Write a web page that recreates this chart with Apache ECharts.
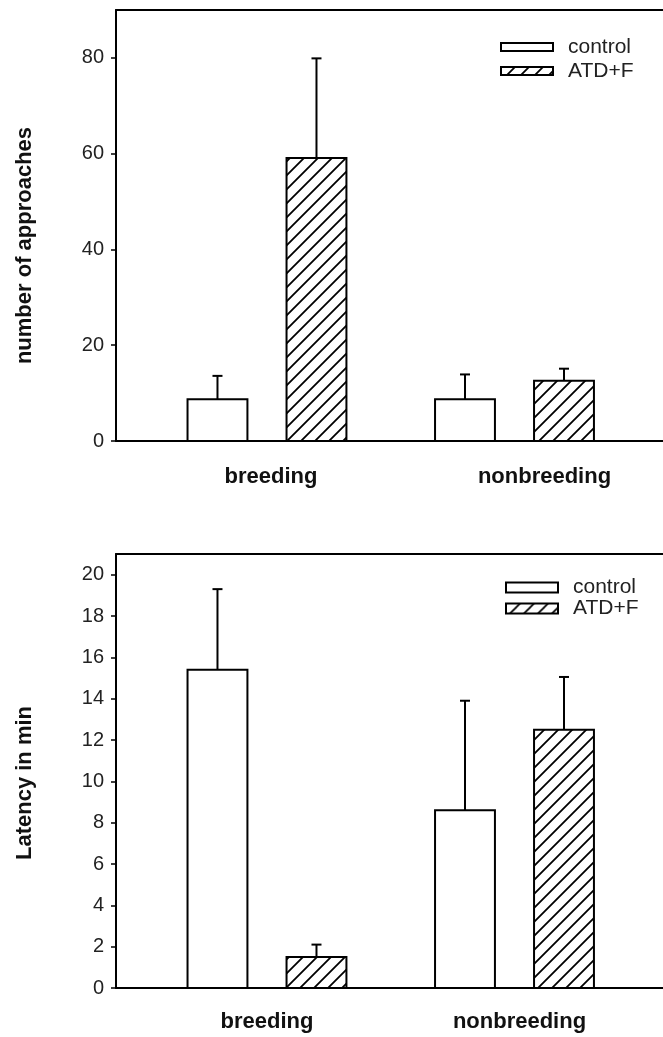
<!DOCTYPE html>
<html>
<head>
<meta charset="utf-8">
<script src="https://cdn.jsdelivr.net/npm/echarts@6/dist/echarts.min.js"></script>
<style>
html,body{margin:0;padding:0;background:#fff;}
#chart{width:663px;height:1037px;}
</style>
</head>
<body>
<div id="chart"></div>
<script>
// ---- data ----
const categories = ['breeding', 'nonbreeding'];
const seriesNames = ['control', 'ATD+F'];
const approachesControl = [8.7, 8.7];
const approachesControlErrTop = [13.6, 13.9];
const approachesATD = [59.1, 12.6];
const approachesATDErrTop = [79.9, 15.1];
const latencyControl = [15.4, 8.6];
const latencyControlErrTop = [19.3, 13.9];
const latencyATD = [1.5, 12.5];
const latencyATDErrTop = [2.1, 15.05];
const approachTicks = [0, 20, 40, 60, 80];
const latencyTicks = [0, 2, 4, 6, 8, 10, 12, 14, 16, 18, 20];

// ---- hatch pattern ----
function makeHatch() {
  const s = 14;
  const c = document.createElement('canvas');
  c.width = s; c.height = s;
  const ctx = c.getContext('2d');
  ctx.fillStyle = '#fff';
  ctx.fillRect(0, 0, s, s);
  ctx.strokeStyle = '#000';
  ctx.lineWidth = 1.8;
  ctx.beginPath();
  ctx.moveTo(-2, s + 2); ctx.lineTo(s + 2, -2);
  ctx.moveTo(-2, 2); ctx.lineTo(2, -2);
  ctx.moveTo(s - 2, s + 2); ctx.lineTo(s + 2, s - 2);
  ctx.stroke();
  return c;
}
const hatch = { image: makeHatch(), repeat: 'repeat' };

const FONT = '"Liberation Sans", Arial, sans-serif';
const OFFSET = 0.2;   // bar centre offset from category centre (axis units)
const HALF = 0.121;   // half bar width (axis units)

function buildData(values, errTops) {
  return values.map((v, i) => [i + 1, v, errTops[i]]);
}

function makeSeries(name, values, errTops, gridIdx, side, fill) {
  return {
    type: 'custom',
    name: name,
    xAxisIndex: gridIdx * 2,
    yAxisIndex: gridIdx,
    data: buildData(values, errTops),
    encode: { x: 0, y: 1 },
    itemStyle: { color: fill, borderColor: '#000', borderWidth: 2 },
    renderItem: function (params, api) {
      const x = api.value(0) + side * OFFSET;
      const v = api.value(1);
      const e = api.value(2);
      const p0 = api.coord([x - HALF, 0]);
      const p1 = api.coord([x + HALF, v]);
      const pc = api.coord([x, v]);
      const pe = api.coord([x, e]);
      const cap = 5;
      return {
        type: 'group',
        children: [
          {
            type: 'line',
            shape: { x1: pc[0], y1: pc[1], x2: pe[0], y2: pe[1] },
            style: { stroke: '#000', lineWidth: 2 }
          },
          {
            type: 'line',
            shape: { x1: pe[0] - cap, y1: pe[1], x2: pe[0] + cap, y2: pe[1] },
            style: { stroke: '#000', lineWidth: 2 }
          },
          {
            type: 'rect',
            shape: { x: p0[0], y: p1[1], width: p1[0] - p0[0], height: p0[1] - p1[1] },
            style: { fill: fill, stroke: '#000', lineWidth: 2 }
          }
        ]
      };
    }
  };
}

function xAxes(gridIdx, shiftNb, margin) {
  return [
    {
      gridIndex: gridIdx, type: 'value', position: 'bottom',
      min: 0.39, max: 2.6,
      axisLine: { show: true, onZero: false, lineStyle: { color: '#000', width: 2 } },
      axisTick: { show: false },
      splitLine: { show: false },
      axisLabel: {
        customValues: [1, 2],
        margin: margin,
        formatter: function (val) {
          const name = categories[Math.round(val) - 1];
          return '{' + (Math.round(val) === 2 ? 'nb' : 'b') + '|' + name + '}';
        },
        rich: {
          b: { fontFamily: FONT, fontWeight: 'bold', fontSize: 22, color: '#111', padding: [0, 0, 0, shiftNb[0]] },
          nb: { fontFamily: FONT, fontWeight: 'bold', fontSize: 22, color: '#111', padding: [0, 0, 0, shiftNb[1]] }
        }
      }
    },
    {
      gridIndex: gridIdx, type: 'value', position: 'top',
      min: 0.39, max: 2.6,
      axisLine: { show: true, onZero: false, lineStyle: { color: '#000', width: 2 } },
      axisTick: { show: false },
      axisLabel: { show: false },
      splitLine: { show: false }
    }
  ];
}

function yAxis(gridIdx, max, ticks, name, shiftDown) {
  return {
    gridIndex: gridIdx, type: 'value', min: 0, max: max,
    axisLine: { show: true, onZero: false, lineStyle: { color: '#000', width: 2 } },
    axisTick: { show: true, inside: false, length: 5, customValues: ticks, lineStyle: { color: '#000', width: 1.5 } },
    splitLine: { show: false },
    axisLabel: { customValues: ticks, margin: 12, fontFamily: FONT, fontSize: 20, color: '#222' },
    name: name,
    nameLocation: 'middle',
    nameGap: 80,
    nameTextStyle: { fontFamily: FONT, fontWeight: 'bold', fontSize: 22, color: '#111', padding: [0, shiftDown * 2, 0, 0] }
  };
}

function legend(left, top, itemH, lineH, gap) {
  return {
    left: left, top: top, orient: 'vertical', padding: 0,
    itemWidth: 52, itemHeight: itemH, itemGap: gap,
    selectedMode: false,
    textStyle: { fontFamily: FONT, fontSize: 21, color: '#222', lineHeight: lineH, padding: [0, 0, 0, 10] },
    data: [
      { name: seriesNames[0], icon: 'rect', itemStyle: { color: '#fff', borderColor: '#000', borderWidth: 2 } },
      { name: seriesNames[1], icon: 'rect', itemStyle: { color: hatch, borderColor: '#000', borderWidth: 2 } }
    ]
  };
}

const chart = echarts.init(document.getElementById('chart'), null, { renderer: 'canvas' });
chart.setOption({
  animation: false,
  backgroundColor: '#fff',
  grid: [
    { left: 116, top: 10, width: 548, height: 431 },
    { left: 116, top: 554, width: 548, height: 434 }
  ],
  legend: [
    legend(500, 36, 8, 22, 2),
    legend(505, 577, 10, 21, 0)
  ],
  xAxis: [].concat(xAxes(0, [8, 60], 25), xAxes(1, [0, 10], 23)),
  yAxis: [
    yAxis(0, 90, approachTicks, 'number of approaches', 20),
    yAxis(1, 21, latencyTicks, 'Latency in min', 12)
  ],
  series: [
    makeSeries(seriesNames[0], approachesControl, approachesControlErrTop, 0, -1, '#fff'),
    makeSeries(seriesNames[1], approachesATD, approachesATDErrTop, 0, 1, hatch),
    makeSeries(seriesNames[0], latencyControl, latencyControlErrTop, 1, -1, '#fff'),
    makeSeries(seriesNames[1], latencyATD, latencyATDErrTop, 1, 1, hatch)
  ]
});
</script>
</body>
</html>
